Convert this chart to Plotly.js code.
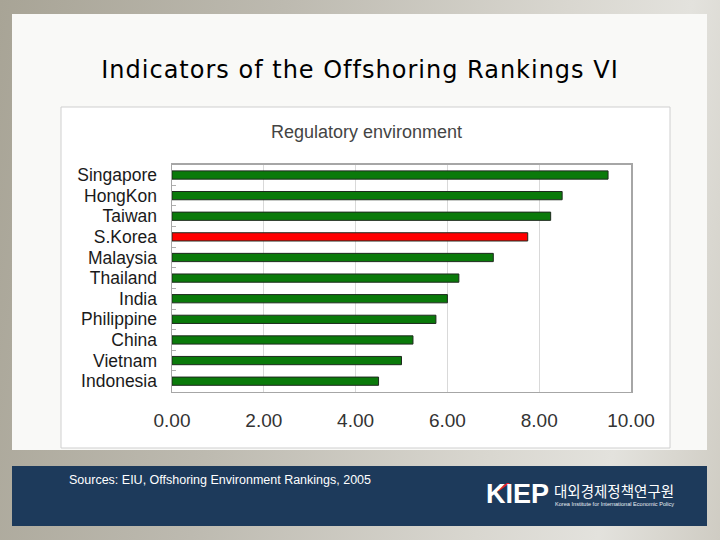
<!DOCTYPE html>
<html>
<head>
<meta charset="utf-8">
<script src="https://cdn.plot.ly/plotly-3.0.1.min.js"></script>
<style>
  html, body { margin: 0; padding: 0; }
  #chart {
    width: 720px; height: 540px;
    background: linear-gradient(100deg, #a8a496 0%, #bdbab0 35%, #d9d7d0 70%, #e3e2dd 85%, #cfccc3 100%);
  }
  .gtitle { letter-spacing: 1px; }
</style>
</head>
<body>
<div id="chart"></div>
<script>
// ---- data ----
const categories = ['Singapore', 'HongKon', 'Taiwan', 'S.Korea', 'Malaysia', 'Thailand', 'India', 'Philippine', 'China', 'Vietnam', 'Indonesia'];
const scores = [9.5, 8.5, 8.25, 7.75, 7.0, 6.25, 6.0, 5.75, 5.25, 5.0, 4.5];
const highlighted = 'S.Korea';
const xTickVals = [0, 2, 4, 6, 8, 10];
const xTickText = ['0.00', '2.00', '4.00', '6.00', '8.00', '10.00'];
const mainTitle = 'Indicators of the Offshoring Rankings VI';
const chartTitle = 'Regulatory environment';
const sourceText = 'Sources: EIU, Offshoring Environment Rankings, 2005';
const logoLetters = 'KIEP';
const logoKorean = '대외경제정책연구원';
const logoEnglish = 'Korea Institute for International Economic Policy';

// ---- helpers (pixel -> paper) ----
const W = 720, H = 540;
const px = x => x / W;
const py = y => 1 - y / H;

const barColors = categories.map(c => c === highlighted ? '#ff0000' : '#0a7a0a');

const trace = {
  type: 'bar',
  orientation: 'h',
  x: scores,
  y: categories,
  marker: { color: barColors, line: { color: '#1e2a1e', width: 1 } },
  hoverinfo: 'x+y'
};

const layout = {
  width: W, height: H,
  margin: { l: 0, r: 0, t: 0, b: 0 },
  paper_bgcolor: 'rgba(0,0,0,0)',
  plot_bgcolor: '#ffffff',
  showlegend: false,
  bargap: 0.6,
  font: { family: '"Liberation Sans", Arial, sans-serif', color: '#222' },
  title: {
    text: mainTitle,
    x: 0.5, xanchor: 'center', xref: 'paper',
    y: py(70), yanchor: 'middle', yref: 'paper',
    font: { family: '"DejaVu Sans", sans-serif', size: 24, color: '#000' }
  },
  xaxis: {
    domain: [px(172), px(631)],
    range: [0, 10],
    tickmode: 'array',
    tickvals: xTickVals,
    ticktext: xTickText,
    showgrid: true, gridcolor: '#d9d9d9', gridwidth: 1,
    zeroline: false,
    showline: true, mirror: true, linecolor: '#a6a6a6', linewidth: 1.5,
    ticks: '',
    ticklabelstandoff: 11,
    tickfont: { size: 19, color: '#333' },
    fixedrange: true
  },
  yaxis: {
    domain: [py(391.5), py(164.7)],
    type: 'category',
    categoryorder: 'array', categoryarray: categories,
    tickmode: 'array', tickvals: categories, ticktext: categories,
    autorange: 'reversed',
    showgrid: false, zeroline: false,
    showline: true, mirror: true, linecolor: '#a6a6a6', linewidth: 1.5,
    ticks: 'inside', tickson: 'boundaries', ticklen: 4, tickcolor: '#b0b0b0',
    ticklabelstandoff: 10,
    tickfont: { size: 17.5, color: '#1a1a1a' },
    fixedrange: true
  },
  shapes: [
    // slide panel
    { type: 'rect', xref: 'paper', yref: 'paper', layer: 'below',
      x0: px(12), x1: px(707), y0: py(450), y1: py(14),
      fillcolor: '#f9f9f7', line: { width: 0 } },
    // chart box
    { type: 'rect', xref: 'paper', yref: 'paper', layer: 'below',
      x0: px(61), x1: px(670), y0: py(448), y1: py(107),
      fillcolor: '#ffffff', line: { color: '#cfcfcf', width: 1 } },
    // navy footer band
    { type: 'rect', xref: 'paper', yref: 'paper', layer: 'below',
      x0: px(12), x1: px(707), y0: py(526), y1: py(466),
      fillcolor: '#1d3a5b', line: { width: 0 } },
    // red slash on the K of the logo
    { type: 'path', xref: 'paper', yref: 'paper', layer: 'above',
      path: `M ${px(496)},${py(491)} L ${px(507)},${py(483)} L ${px(510)},${py(483)} L ${px(499)},${py(491)} Z`,
      fillcolor: '#e8202a', line: { width: 0 } }
  ],
  annotations: [
    { text: chartTitle, xref: 'paper', yref: 'paper', x: px(366), y: py(132),
      xanchor: 'center', yanchor: 'middle', showarrow: false,
      font: { size: 18, color: '#444' } },
    { text: sourceText, xref: 'paper', yref: 'paper', x: px(67), y: py(480),
      xanchor: 'left', yanchor: 'middle', showarrow: false,
      font: { size: 12.5, color: '#ffffff' } },
    { text: '<b>' + logoLetters + '</b>', xref: 'paper', yref: 'paper', x: px(484), y: py(494),
      xanchor: 'left', yanchor: 'middle', showarrow: false,
      font: { size: 27, color: '#ffffff', family: '"Liberation Sans", Arial, sans-serif' } },
    { text: logoKorean, xref: 'paper', yref: 'paper', x: px(552), y: py(490),
      xanchor: 'left', yanchor: 'middle', showarrow: false,
      font: { size: 14.5, color: '#ffffff', family: '"Noto Sans CJK KR", sans-serif' } },
    { text: logoEnglish, xref: 'paper', yref: 'paper', x: px(553), y: py(503.5),
      xanchor: 'left', yanchor: 'middle', showarrow: false,
      font: { size: 5.6, color: '#e8edf3' } }
  ]
};

Plotly.newPlot('chart', [trace], layout, { displayModeBar: false, staticPlot: true });
</script>
</body>
</html>
